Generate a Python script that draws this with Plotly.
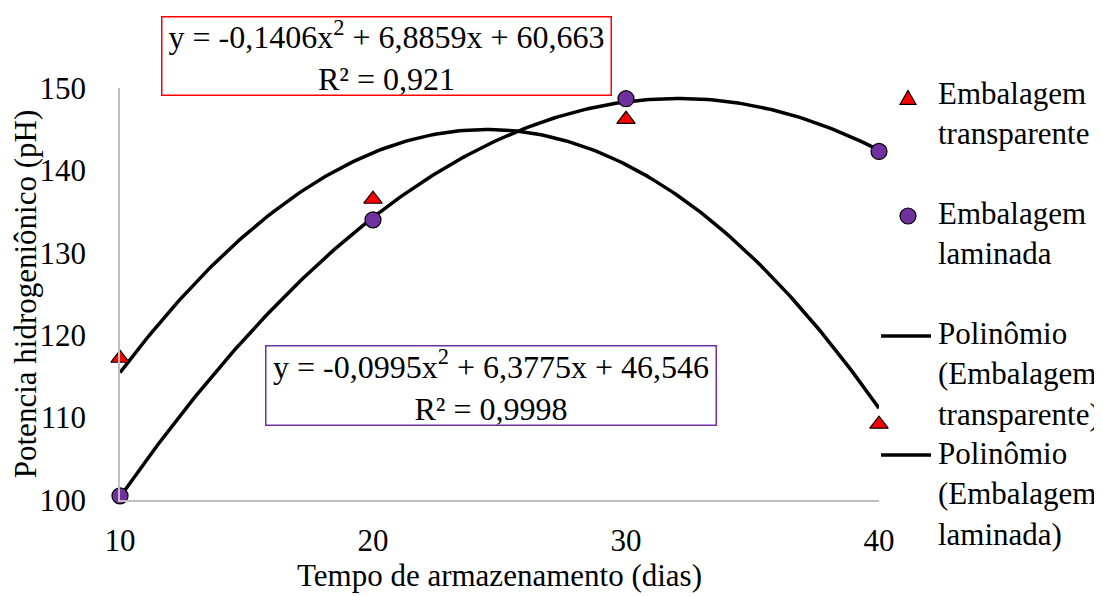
import numpy as np
import plotly.graph_objects as go

# Data
dias = [10, 20, 30, 40]
transparente = [117.2, 136.5, 146.2, 109.2]
laminada = [100.5, 134.0, 148.7, 142.3]

# Trendline coefficients (a, b, c) shown on chart: y = a x^2 + b x + c
coef_transparente = [-0.1406, 6.8859, 60.663]
coef_laminada = [-0.0995, 6.3775, 46.546]

eq_transparente = "y = -0,1406x<sup>2</sup> + 6,8859x + 60,663<br>R² = 0,921"
eq_laminada = "y = -0,0995x<sup>2</sup> + 6,3775x + 46,546<br>R² = 0,9998"

legend_labels = [
    "Embalagem<br>transparente",
    "Embalagem<br>laminada",
    "Polinômio<br>(Embalagem<br>transparente)",
    "Polinômio<br>(Embalagem<br>laminada)",
]

x_tick_vals = [10, 20, 30, 40]
y_tick_vals = [100, 110, 120, 130, 140, 150]

FONT = "Liberation Serif"
FS = 31
FS_EQ = 32
RED = "#ff0000"
PURPLE = "#7030a0"

xs = np.linspace(min(dias), max(dias), 200)
fit_t = np.polyval(coef_transparente, xs)
fit_l = np.polyval(coef_laminada, xs)

fig = go.Figure()
fig.add_trace(go.Scatter(
    x=xs, y=fit_t, mode="lines", line=dict(color="black", width=3.5),
    name="Polinômio (Embalagem transparente)", cliponaxis=False,
    hoverinfo="skip", showlegend=False))
fig.add_trace(go.Scatter(
    x=xs, y=fit_l, mode="lines", line=dict(color="black", width=3.5),
    name="Polinômio (Embalagem laminada)", cliponaxis=False,
    hoverinfo="skip", showlegend=False))
fig.add_trace(go.Scatter(
    x=dias, y=transparente, mode="markers",
    marker=dict(symbol="triangle-up", size=16, color=RED,
                line=dict(color="black", width=1.2)),
    name="Embalagem transparente", cliponaxis=False, showlegend=False))
fig.add_trace(go.Scatter(
    x=dias, y=laminada, mode="markers",
    marker=dict(symbol="circle", size=16, color=PURPLE,
                line=dict(color="black", width=1.2)),
    name="Embalagem laminada", cliponaxis=False, showlegend=False))

L, R, T, B = 112, 231, 80, 104
W, H = 1102, 596
pw, ph = W - L - R, H - T - B


def px(xp):
    return (xp - L) / pw


def py(yp):
    return (H - B - yp) / ph


# Equation boxes
fig.add_annotation(x=px(378.5), y=py(48), xref="paper", yref="paper",
                   text=eq_transparente, showarrow=False,
                   font=dict(family=FONT, size=FS_EQ, color="black"),
                   bordercolor=RED, borderwidth=1.5, borderpad=0,
                   bgcolor="white", align="center", width=448, height=77,
                   xanchor="center", yanchor="middle")
fig.add_annotation(x=px(483), y=py(377.5), xref="paper", yref="paper",
                   text=eq_laminada, showarrow=False,
                   font=dict(family=FONT, size=FS_EQ, color="black"),
                   bordercolor=PURPLE, borderwidth=1.5, borderpad=0,
                   bgcolor="white", align="center", width=449, height=78,
                   xanchor="center", yanchor="middle")

# Manual legend: texts
legend_tops = [66, 186, 306, 426]
for lab, top in zip(legend_labels, legend_tops):
    fig.add_annotation(x=px(928), y=py(top), xref="paper", yref="paper",
                       text=lab, showarrow=False, align="left",
                       font=dict(family=FONT, size=FS, color="black"),
                       xanchor="left", yanchor="top")

# Manual legend: symbols
tx, ty, ts = 900, 90, 8
fig.add_shape(type="path", xref="paper", yref="paper",
              path=f"M {px(tx - ts)} {py(ty + ts * 0.8)} L {px(tx + ts)} {py(ty + ts * 0.8)} "
                   f"L {px(tx)} {py(ty - ts * 0.95)} Z",
              fillcolor=RED, line=dict(color="black", width=1.2))
cx, cy, cr = 900, 208, 8
fig.add_shape(type="circle", xref="paper", yref="paper",
              x0=px(cx - cr), x1=px(cx + cr), y0=py(cy + cr), y1=py(cy - cr),
              fillcolor=PURPLE, line=dict(color="black", width=1.2))
for yl in (328, 447):
    fig.add_shape(type="line", xref="paper", yref="paper",
                  x0=px(873), x1=px(923), y0=py(yl), y1=py(yl),
                  line=dict(color="black", width=3.5))

fig.update_layout(
    width=W, height=H,
    margin=dict(l=L, r=R, t=T, b=B, autoexpand=False),
    paper_bgcolor="white", plot_bgcolor="white",
    font=dict(family=FONT, size=FS, color="black"),
    showlegend=False,
    xaxis=dict(range=[10, 40], tickvals=x_tick_vals, showgrid=False,
               zeroline=False, showline=True, linecolor="#bfbfbf",
               linewidth=1.5, ticks="", ticklabelstandoff=12,
               automargin=False,
               title=dict(text="Tempo de armazenamento (dias)", standoff=7,
                          font=dict(family=FONT, size=FS))),
    yaxis=dict(range=[100, 150], tickvals=y_tick_vals, showgrid=False,
               zeroline=False, showline=True, linecolor="#bfbfbf",
               linewidth=1.5, ticks="", ticklabelstandoff=26,
               automargin=False,
               title=dict(text="Potencia hidrogeniônico (pH)", standoff=0,
                          font=dict(family=FONT, size=FS))),
)

fig.write_html("out.html")
